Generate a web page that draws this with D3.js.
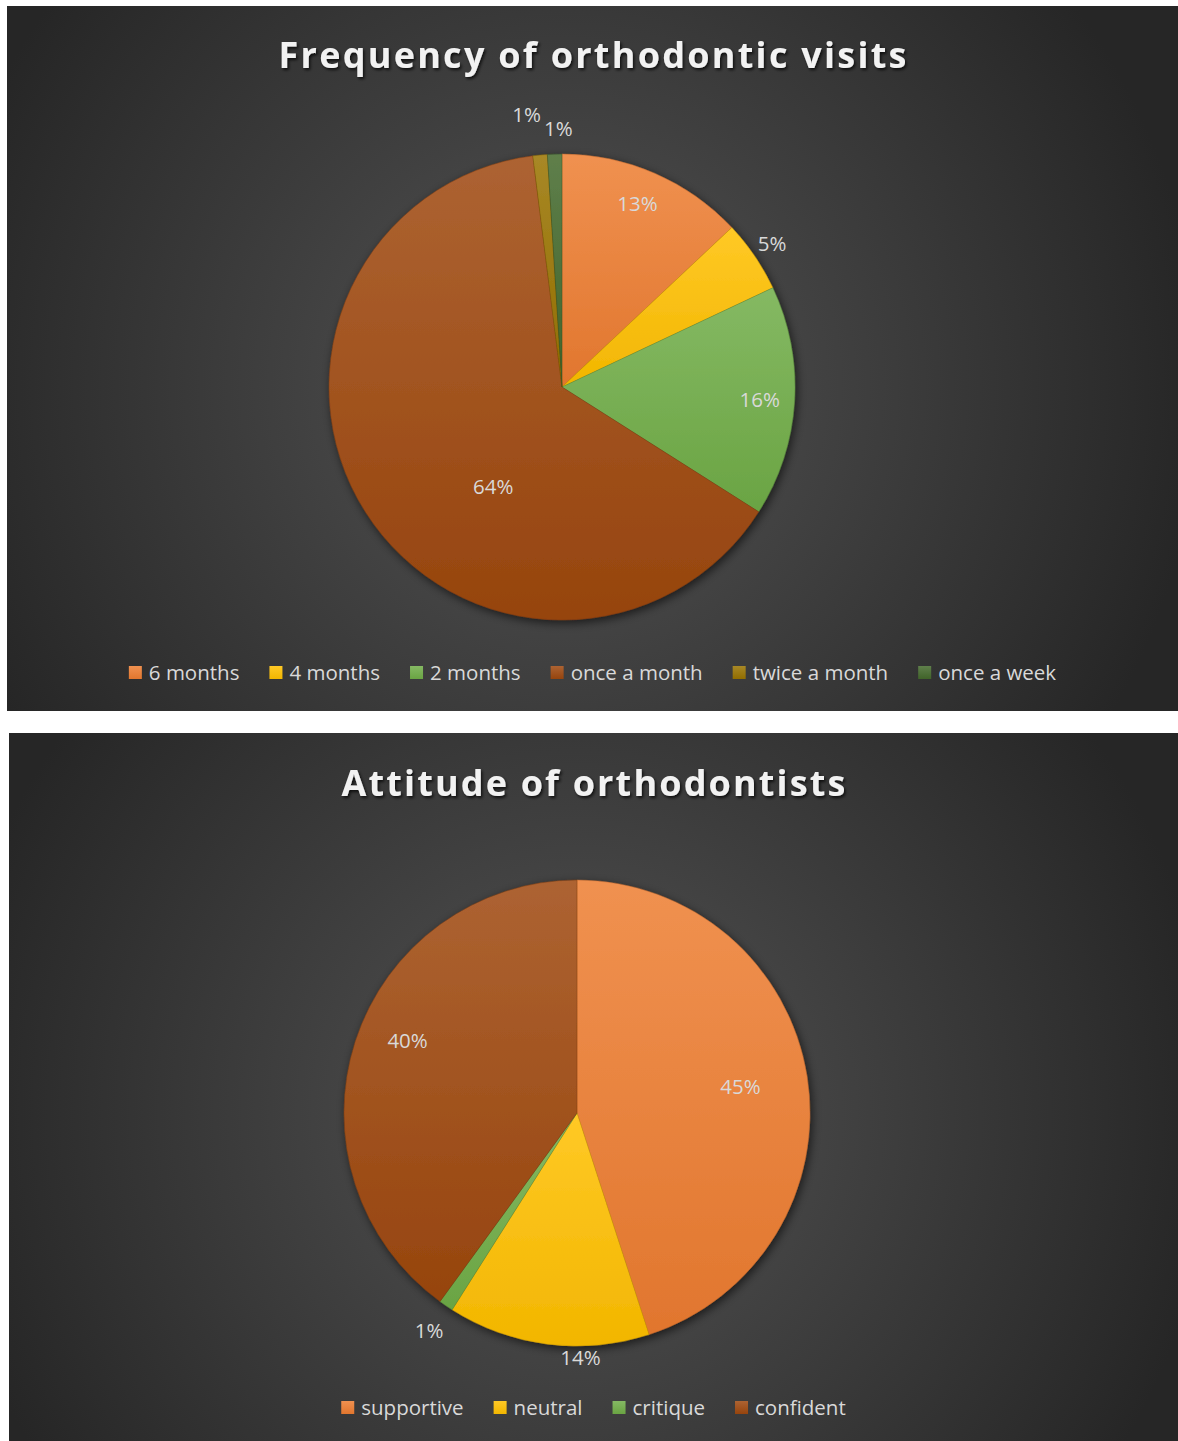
<!DOCTYPE html>
<html>
<head>
<meta charset="utf-8">
<script src="https://cdn.jsdelivr.net/npm/d3@7"></script>
<style>
  html, body { margin: 0; padding: 0; background: #ffffff; }
  svg { display: block; }
</style>
</head>
<body>
<svg id="chart" width="1178" height="1441"></svg>
<script>
// ---- Data: frequency of orthodontic visits ----
const visitCategories = ["6 months", "4 months", "2 months", "once a month", "twice a month", "once a week"];
const visitValues = [13, 5, 16, 64, 1, 1];
const visitTitle = "Frequency of orthodontic visits";

// ---- Data: attitude of orthodontists ----
const attitudeCategories = ["supportive", "neutral", "critique", "confident"];
const attitudeValues = [45, 14, 1, 40];
const attitudeTitle = "Attitude of orthodontists";

// ---- Styling ----
const visitColors = ["#ED7D31", "#FFC000", "#70AD47", "#9E480E", "#997300", "#43682B"];
const attitudeColors = ["#ED7D31", "#FFC000", "#70AD47", "#9E480E"];
// label placement per slice: [radius as fraction of pie radius, angle shift in degrees]
const visitLabelPlacement = [[0.85, -1], [1.09, 0], [0.85, 0], [0.52, -23], [1.18, -2], [1.11, 1]];
const attitudeLabelPlacement = [[0.71, 0], [1.05, -8], [1.13, 0], [0.79, 5]];

const svg = d3.select("#chart");
const defs = svg.append("defs");

function bgGradient(id, cx, cy) {
  const g = defs.append("radialGradient").attr("id", id)
    .attr("gradientUnits", "userSpaceOnUse")
    .attr("cx", cx).attr("cy", cy).attr("r", 640);
  g.append("stop").attr("offset", "0%").attr("stop-color", "#545454");
  g.append("stop").attr("offset", "100%").attr("stop-color", "#262626");
}

const shadow = defs.append("filter").attr("id", "pieShadow")
  .attr("x", "-20%").attr("y", "-20%").attr("width", "140%").attr("height", "140%");
shadow.append("feDropShadow").attr("dx", 2).attr("dy", 3).attr("stdDeviation", 5)
  .attr("flood-color", "#000").attr("flood-opacity", 0.6);

const titleShadow = defs.append("filter").attr("id", "titleShadow")
  .attr("x", "-10%").attr("y", "-30%").attr("width", "120%").attr("height", "160%");
titleShadow.append("feDropShadow").attr("dx", 1.5).attr("dy", 2).attr("stdDeviation", 1.5)
  .attr("flood-color", "#000").attr("flood-opacity", 0.75);

function sliceGradient(id, color) {
  const light = d3.interpolateRgb(color, "#ffffff")(0.15);
  const dark = d3.color(color).darker(0.15);
  const g = defs.append("linearGradient").attr("id", id)
    .attr("x1", 0).attr("y1", 0).attr("x2", 0).attr("y2", 1);
  g.append("stop").attr("offset", "0%").attr("stop-color", light);
  g.append("stop").attr("offset", "100%").attr("stop-color", dark);
  return `url(#${id})`;
}

function drawPanel(opts) {
  const { x, y, w, h, id, title, titleY, titleLen, cats, vals, colors, cx, cy, r,
          placement, legendY } = opts;
  // gradient coordinates are in the panel's local space
  bgGradient(id + "Bg", cx, cy);
  const panel = svg.append("g").attr("transform", `translate(${x},${y})`);
  panel.append("rect").attr("width", w).attr("height", h).attr("fill", `url(#${id}Bg)`);

  panel.append("text")
    .attr("x", w / 2).attr("y", titleY)
    .attr("text-anchor", "middle")
    .attr("font-family", "'Open Sans', sans-serif")
    .attr("font-weight", 700)
    .attr("font-size", 36)
    .attr("textLength", titleLen)
    .attr("lengthAdjust", "spacing")
    .attr("fill", "#f2f2f2")
    .attr("filter", "url(#titleShadow)")
    .text(title);

  const pie = d3.pie().sort(null).value(d => d);
  const arcs = pie(vals);
  const arc = d3.arc().innerRadius(0).outerRadius(r);

  const g = panel.append("g").attr("transform", `translate(${cx},${cy})`);
  const fills = colors.map((c, i) => sliceGradient(`${id}Slice${i}`, c));

  const pieG = g.append("g").attr("filter", "url(#pieShadow)");
  pieG.selectAll("path").data(arcs).join("path")
    .attr("d", arc)
    .attr("fill", (d, i) => fills[i])
    .attr("stroke", (d, i) => d3.color(colors[i]).darker(0.6))
    .attr("stroke-width", 0.6)
    .attr("stroke-opacity", 0.7);

  g.selectAll("text.lbl").data(arcs).join("text")
    .attr("class", "lbl")
    .attr("transform", (d, i) => {
      const [f, shift] = placement[i];
      const a = (d.startAngle + d.endAngle) / 2 + shift * Math.PI / 180;
      const rr = r * f;
      return `translate(${rr * Math.sin(a)},${-rr * Math.cos(a)})`;
    })
    .attr("text-anchor", "middle")
    .attr("dy", "0.35em")
    .attr("font-family", "'Open Sans', sans-serif")
    .attr("font-size", 20.5)
    .attr("fill", "#d9d9d9")
    .text(d => d.data + "%");

  // legend
  const leg = panel.append("g");
  const items = leg.selectAll("g").data(cats).join("g");
  items.append("rect").attr("width", 13).attr("height", 13).attr("y", -14)
    .attr("fill", (d, i) => fills[i]);
  items.append("text").attr("x", 20).attr("y", 0)
    .attr("font-family", "'Open Sans', sans-serif")
    .attr("font-size", 20.5)
    .attr("fill", "#d9d9d9")
    .text(d => d);
  let offset = 0;
  const gap = 30;
  items.each(function () {
    const tw = d3.select(this).select("text").node().getComputedTextLength();
    d3.select(this).attr("transform", `translate(${offset},0)`);
    offset += 20 + tw + gap;
  });
  const total = offset - gap;
  leg.attr("transform", `translate(${(w - total) / 2},${legendY})`);
}

drawPanel({
  x: 7, y: 6, w: 1171, h: 705, id: "visits",
  title: visitTitle, titleY: 62, titleLen: 628,
  cats: visitCategories, vals: visitValues, colors: visitColors,
  cx: 555, cy: 381, r: 233, placement: visitLabelPlacement, legendY: 674
});

drawPanel({
  x: 9, y: 733, w: 1169, h: 708, id: "attitude",
  title: attitudeTitle, titleY: 63, titleLen: 504,
  cats: attitudeCategories, vals: attitudeValues, colors: attitudeColors,
  cx: 568, cy: 380, r: 233, placement: attitudeLabelPlacement, legendY: 682
});
</script>
</body>
</html>
